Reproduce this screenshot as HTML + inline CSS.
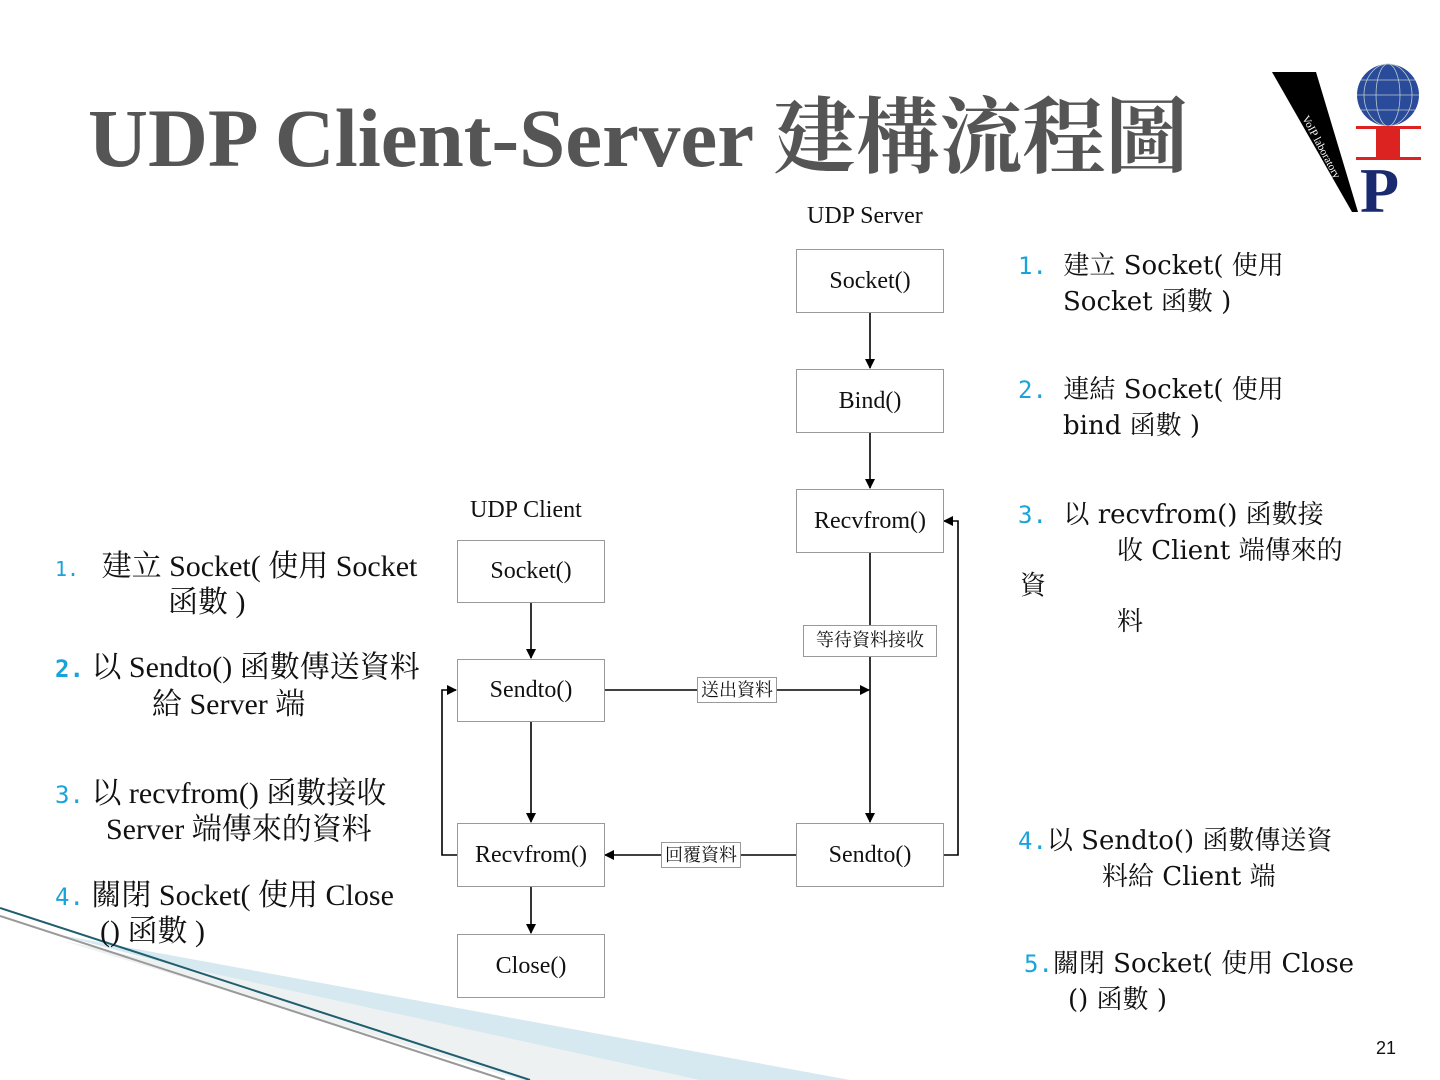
<!DOCTYPE html>
<html><head><meta charset="utf-8"><style>
body{margin:0;width:1440px;height:1080px;position:relative;background:#fff;overflow:hidden;font-family:"Liberation Serif","Noto Serif CJK SC","Noto Sans CJK TC",serif;color:#111}
.t{position:absolute;font-size:30px;line-height:30px;white-space:nowrap}
.r{font-family:"DejaVu Serif","Noto Serif CJK SC",serif;font-size:26px}
.n{color:#1aa3d9;font-family:"DejaVu Sans Mono","Liberation Mono",monospace;font-size:24px}
.b{position:absolute;border:1px solid #999;background:#fff;font-size:24px;display:flex;align-items:center;justify-content:center;box-sizing:border-box}
.lbl{position:absolute;border:1px solid #999;background:#fff;font-size:18px;line-height:28px;text-align:center;box-sizing:border-box}
</style></head><body>
<svg style="position:absolute;left:0;top:0" width="1440" height="1080">
<polygon points="60,935 850,1080 600,1080" fill="#d6e8f0"/>
<polygon points="60,940 520,1080 700,1080" fill="#eef1f2"/>
<line x1="0" y1="908" x2="530" y2="1080" stroke="#1f5e6e" stroke-width="2"/>
<line x1="0" y1="916" x2="505" y2="1080" stroke="#999" stroke-width="2"/>
<defs><marker id="a" markerWidth="10" markerHeight="10" refX="9" refY="5" orient="auto" markerUnits="userSpaceOnUse"><path d="M0,0 L10,5 L0,10z" fill="#000"/></marker></defs>
<g stroke="#000" stroke-width="1.6" fill="none">
<line x1="870" y1="312" x2="870" y2="368" marker-end="url(#a)"/>
<line x1="870" y1="432" x2="870" y2="488" marker-end="url(#a)"/>
<line x1="870" y1="552" x2="870" y2="822" marker-end="url(#a)"/>
<line x1="604" y1="690" x2="869" y2="690" marker-end="url(#a)"/>
<polyline points="943,855 958,855 958,521 944,521" marker-end="url(#a)"/>
<line x1="796" y1="855" x2="605" y2="855" marker-end="url(#a)"/>
<polyline points="457,855 442,855 442,690 456,690" marker-end="url(#a)"/>
<line x1="531" y1="602" x2="531" y2="658" marker-end="url(#a)"/>
<line x1="531" y1="721" x2="531" y2="822" marker-end="url(#a)"/>
<line x1="531" y1="886" x2="531" y2="933" marker-end="url(#a)"/>
</g>
<polygon points="1272,72 1316,72 1358,212 1352,212" fill="#000"/>
<text x="1302" y="118" fill="#fff" font-size="11" font-family="Liberation Serif" transform="rotate(62 1302 118)">VoIP laboratory</text>
<circle cx="1388" cy="95" r="31" fill="#2a4a9a"/>
<g stroke="#bcc" stroke-width="0.8" fill="none">
<ellipse cx="1388" cy="95" rx="12" ry="31"/><ellipse cx="1388" cy="95" rx="24" ry="31"/>
<line x1="1357" y1="95" x2="1419" y2="95"/><line x1="1361" y1="80" x2="1415" y2="80"/><line x1="1361" y1="110" x2="1415" y2="110"/>
</g>
<rect x="1356" y="126" width="65" height="3" fill="#d22"/>
<rect x="1376" y="129" width="24" height="28" fill="#d22"/>
<rect x="1356" y="157" width="65" height="3" fill="#d22"/>
<text x="1360" y="212" fill="#1a2a6e" font-size="64" font-weight="bold" font-family="Liberation Serif">P</text>
</svg>
<div style="position:absolute;left:88px;top:90px;font-size:83px;line-height:96px;font-weight:bold;color:#555;white-space:nowrap;font-family:'Liberation Serif','Noto Serif CJK SC',serif">UDP Client-Server 建構流程圖</div>
<div class="t" style="left:807px;top:201px;font-size:24px">UDP Server</div>
<div class="t" style="left:470px;top:495px;font-size:24px">UDP Client</div>
<div class="b" style="left:796px;top:249px;width:148px;height:64px">Socket()</div>
<div class="b" style="left:796px;top:369px;width:148px;height:64px">Bind()</div>
<div class="b" style="left:796px;top:489px;width:148px;height:64px">Recvfrom()</div>
<div class="b" style="left:796px;top:823px;width:148px;height:64px">Sendto()</div>
<div class="b" style="left:457px;top:540px;width:148px;height:63px">Socket()</div>
<div class="b" style="left:457px;top:659px;width:148px;height:63px">Sendto()</div>
<div class="b" style="left:457px;top:823px;width:148px;height:64px">Recvfrom()</div>
<div class="b" style="left:457px;top:934px;width:148px;height:64px">Close()</div>
<div class="lbl" style="left:803px;top:625px;width:134px;height:32px">等待資料接收</div>
<div class="lbl" style="left:697px;top:677px;width:80px;height:26px;line-height:24px">送出資料</div>
<div class="lbl" style="left:661px;top:842px;width:80px;height:26px;line-height:24px">回覆資料</div>

<div class="t r" style="left:1018px;top:251px"><span class="n">1.</span>&nbsp; 建立 Socket( 使用</div>
<div class="t r" style="left:1063px;top:287px">Socket 函數 )</div>
<div class="t r" style="left:1018px;top:375px"><span class="n">2.</span>&nbsp; 連結 Socket( 使用</div>
<div class="t r" style="left:1063px;top:411px">bind 函數 )</div>
<div class="t r" style="left:1018px;top:500px"><span class="n">3.</span>&nbsp; 以 recvfrom() 函數接</div>
<div class="t r" style="left:1117px;top:536px">收 Client 端傳來的</div>
<div class="t r" style="left:1020px;top:571px">資</div>
<div class="t r" style="left:1117px;top:607px">料</div>
<div class="t r" style="left:1018px;top:826px"><span class="n">4.</span>以 Sendto() 函數傳送資</div>
<div class="t r" style="left:1102px;top:862px">料給 Client 端</div>
<div class="t r" style="left:1024px;top:949px"><span class="n">5.</span>關閉 Socket( 使用 Close</div>
<div class="t r" style="left:1068px;top:985px">() 函數 )</div>

<div class="t" style="left:55px;top:552px"><span class="n" style="font-size:20px">1.</span>&nbsp;&nbsp; 建立 Socket( 使用 Socket</div>
<div class="t" style="left:168px;top:588px">函數 )</div>
<div class="t" style="left:55px;top:653px"><span class="n" style="font-weight:bold">2.</span> 以 Sendto() 函數傳送資料</div>
<div class="t" style="left:152px;top:690px">給 Server 端</div>
<div class="t" style="left:55px;top:779px"><span class="n">3.</span> 以 recvfrom() 函數接收</div>
<div class="t" style="left:106px;top:815px">Server 端傳來的資料</div>
<div class="t" style="left:55px;top:881px"><span class="n">4.</span> 關閉 Socket( 使用 Close</div>
<div class="t" style="left:100px;top:917px">() 函數 )</div>
<div style="position:absolute;left:1376px;top:1038px;font-size:18px;font-family:'Liberation Sans',sans-serif">21</div>
</body></html>
